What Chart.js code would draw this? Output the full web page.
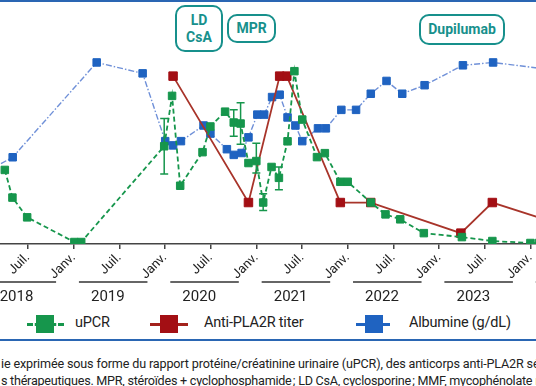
<!DOCTYPE html>
<html lang="fr">
<head>
<meta charset="utf-8">
<script src="https://cdn.jsdelivr.net/npm/chart.js@4.4.0/dist/chart.umd.min.js"></script>
<style>
  html, body { margin: 0; padding: 0; background: #fff; }
  body { width: 536px; height: 386px; position: relative; overflow: hidden; font-family: Roboto, "Noto Sans", sans-serif; color: #222; }
  #chart { position: absolute; left: -60px; top: 0; }
  .rule { position: absolute; left: 0; width: 536px; height: 2px; background: #2a66b3; }
  .tag { position: absolute; box-sizing: border-box; border: 2px solid #17908c; border-radius: 10px; color: #17908c;
         font-weight: bold; font-size: 14px; line-height: 17px; text-align: center; display: flex; align-items: center; justify-content: center; background: #fff; }
  .leg { position: absolute; top: 313px; height: 22px; }
  .leg .ln { position: absolute; top: 10px; height: 0; }
  .leg .sq { position: absolute; top: 2px; width: 18px; height: 18px; }
  .legtxt { position: absolute; top: 314px; font-size: 14.5px; line-height: 18px; letter-spacing: -0.2px; }
  .cap { position: absolute; left: 1px; white-space: nowrap; font-size: 12.6px; line-height: 16px; letter-spacing: -0.15px; color: #222; }
</style>
</head>
<body>
<div class="rule" style="top:0"></div>
<canvas id="chart" width="660" height="310"></canvas>

<div class="tag" style="left:175px; top:5px; width:48px; height:47px;">LD<br>CsA</div>
<div class="tag" style="left:227px; top:14px; width:49px; height:29px;">MPR</div>
<div class="tag" style="left:419px; top:14px; width:86px; height:31px;">Dupilumab</div>

<div class="leg" style="left:27px; width:37px;">
  <div class="ln" style="left:0; width:37px; border-top:3px dashed #16964c;"></div>
  <div class="sq" style="left:9px; background:#16964c;"></div>
</div>
<div class="legtxt" style="left:75px;">uPCR</div>
<div class="leg" style="left:150px; width:38px;">
  <div class="ln" style="left:0; width:38px; border-top:3px solid #a3221c;"></div>
  <div class="sq" style="left:10px; background:#a30f14;"></div>
</div>
<div class="legtxt" style="left:204px;">Anti-PLA2R titer</div>
<div class="leg" style="left:356px; width:34px;">
  <div class="ln" style="left:0; width:34px; border-top:3px solid #1f63c1;"></div>
  <div class="sq" style="left:9px; background:#1f63c1;"></div>
</div>
<div class="legtxt" style="left:409px;">Albumine (g/dL)</div>

<div class="rule" style="top:339px"></div>
<div class="cap" style="top:356px;">ie exprimée sous forme du rapport protéine/créatinine urinaire (uPCR), des anticorps anti-PLA2R sériques et de l'albumine</div>
<div class="cap" style="top:373px; letter-spacing:-0.25px;">s thérapeutiques. MPR, stéroïdes + cyclophosphamide&#8239;; LD CsA, cyclosporine&#8239;; MMF, mycophénolate mofétil.</div>

<script>
// uPCR (g/g)
const upcrDates = ['2018-03-30','2018-04-30','2018-06-28','2019-01-04','2019-01-31','2019-12-28','2020-01-29','2020-03-01',
  '2020-05-29','2020-06-30','2020-08-28','2020-10-02','2020-10-29','2020-11-30','2021-01-01','2021-01-28','2021-03-01',
  '2021-03-30','2021-05-04','2021-06-01','2021-07-02','2021-08-30','2021-10-01','2021-12-02','2022-01-01','2022-04-02',
  '2022-05-30','2022-07-28','2022-11-01','2023-04-01','2023-08-01','2024-01-01','2024-02-05'];
const upcrValues = [3.75, 2.35, 1.35, 0.1, 0.1, 4.95, 7.5, 2.95, 4.65, 5.95, 6.7, 6.15, 6.1, 4.1, 4.2, 2.1, 3.9,
  3.35, 5.2, 8.75, 6.3, 4.4, 4.6, 3.15, 3.15, 2.1, 1.5, 1.25, 0.55, 0.35, 0.15, 0.05, 0.05];
const upcrErrLow = [null, null, null, null, null, 3.55, null, null, null, null, null, 5.45, 5.05, null, 3.6, 1.7, null,
  2.75, null, null, null, null, null, null, null, null, null, null, null, null, null, null, null];
const upcrErrHigh = [null, null, null, null, null, 6.35, null, null, null, null, null, 6.8, 7.15, null, 5.1, 2.55, null,
  3.9, null, null, null, null, null, null, null, null, null, null, null, null, null, null, null];

// Anti-PLA2R titer (RU/mL)
const pla2rDates = ['2020-02-03','2020-11-30','2021-04-03','2021-05-01','2021-12-02','2022-04-02','2023-03-27','2023-08-01','2024-04-04'];
const pla2rValues = [170, 42, 170, 170, 42, 42, 11, 42, 22];

// Albumine (g/dL)
const albDates = ['2018-02-05','2018-05-01','2019-04-02','2019-10-03','2020-01-02','2020-02-03','2020-03-04','2020-06-03',
  '2020-06-30','2020-09-05','2020-10-02','2020-11-03','2020-11-30','2021-01-05','2021-02-02','2021-03-03','2021-04-03',
  '2021-05-04','2021-06-05','2021-07-02','2021-09-04','2021-10-05','2021-12-06','2022-02-04','2022-04-02','2022-06-04',
  '2022-08-06','2022-11-04','2023-04-05','2023-08-04','2024-04-04'];
const albValues = [1.58, 1.83, 3.83, 3.60, 2.17, 2.08, 2.17, 2.50, 2.33, 2.00, 1.88, 1.92, 2.25, 2.73, 2.73, 3.10, 3.15,
  2.67, 2.50, 2.17, 2.44, 2.44, 2.83, 2.83, 3.17, 3.44, 3.17, 3.35, 3.77, 3.83, 3.67];

// axis: months counted from Janv. 2018
const tickMonths = [0, 6, 12, 18, 24, 30, 36, 42, 48, 54, 60, 66, 72, 78];
const tickLabels = ['Janv.','Juil.','Janv.','Juil.','Janv.','Juil.','Janv.','Juil.','Janv.','Juil.','Janv.','Juil.','Janv.','Juil.'];
const yearLabels = ['2018','2019','2020','2021','2022','2023','2024'];

const GREEN = '#16964c', RED = '#a30f14', BLUE = '#1f63c1';

function monthOf(d) {
    const [y, m, day] = d.split('-').map(Number);
    return (y - 2018) * 12 + (m - 1) + (day - 1) / 30;
}

function toPoints(dates, values) {
    return dates.map((d, i) => ({ x: monthOf(d), y: values[i] }));
}

const errorBars = {
    id: 'errorBars',
    afterDatasetsDraw(chart) {
        const ctx = chart.ctx;
        const xs = chart.scales.x, ys = chart.scales.yU;
        ctx.save();
        ctx.strokeStyle = GREEN;
        ctx.lineWidth = 1.5;
        upcrDates.forEach((d, i) => {
            if (upcrErrLow[i] == null) return;
            const x = xs.getPixelForValue(monthOf(d));
            const y1 = ys.getPixelForValue(upcrErrLow[i]);
            const y2 = ys.getPixelForValue(upcrErrHigh[i]);
            ctx.beginPath();
            ctx.moveTo(x, y1); ctx.lineTo(x, y2);
            ctx.moveTo(x - 4, y1); ctx.lineTo(x + 4, y1);
            ctx.moveTo(x - 4, y2); ctx.lineTo(x + 4, y2);
            ctx.stroke();
        });
        ctx.restore();
    }
};

const yearRow = {
    id: 'yearRow',
    afterDraw(chart) {
        const ctx = chart.ctx;
        const xs = chart.scales.x;
        ctx.save();
        ctx.strokeStyle = '#333';
        ctx.lineWidth = 1.5;
        ctx.fillStyle = '#222';
        ctx.font = '15px Roboto';
        ctx.textAlign = 'center';
        ctx.textBaseline = 'middle';
        yearLabels.forEach((label, k) => {
            const a = xs.getPixelForValue(12 * k + 0.7);
            const b = xs.getPixelForValue(12 * k + 9.7);
            ctx.beginPath();
            ctx.moveTo(a, 282); ctx.lineTo(b, 282);
            ctx.stroke();
            ctx.fillText(label, xs.getPixelForValue(12 * k + 4.5), 297);
        });
        ctx.restore();
    }
};

new Chart(document.getElementById('chart'), {
    type: 'line',
    data: {
        datasets: [{
            label: 'uPCR',
            data: toPoints(upcrDates, upcrValues),
            yAxisID: 'yU',
            order: 0,
            borderColor: GREEN,
            borderWidth: 1.8,
            borderDash: [5, 3],
            backgroundColor: GREEN,
            pointStyle: 'rect',
            pointRadius: 5.3,
            pointBorderWidth: 1,
            pointBorderColor: GREEN,
            pointBackgroundColor: GREEN
        }, {
            label: 'Anti-PLA2R titer',
            data: toPoints(pla2rDates, pla2rValues),
            yAxisID: 'yP',
            order: 1,
            borderColor: '#a8342a',
            borderWidth: 1.8,
            backgroundColor: RED,
            pointStyle: 'rect',
            pointRadius: 6,
            pointBorderWidth: 1,
            pointBorderColor: RED,
            pointBackgroundColor: RED
        }, {
            label: 'Albumine (g/dL)',
            data: toPoints(albDates, albValues),
            yAxisID: 'yA',
            order: 2,
            borderColor: '#6f90d8',
            borderWidth: 1.4,
            borderDash: [6, 2, 1.5, 2],
            backgroundColor: BLUE,
            pointStyle: 'rect',
            pointRadius: 5.3,
            pointBorderWidth: 1,
            pointBorderColor: BLUE,
            pointBackgroundColor: BLUE
        }]
    },
    options: {
        responsive: false,
        animation: false,
        devicePixelRatio: 1,
        layout: { padding: { top: 4, left: 0, right: 0, bottom: 0 } },
        plugins: { legend: { display: false }, tooltip: { enabled: false } },
        scales: {
            x: {
                type: 'linear',
                min: -4.628,
                max: 80.22,
                border: { display: true, color: '#444', width: 1.5 },
                grid: { drawOnChartArea: false, drawTicks: true, tickLength: 5, color: '#444', lineWidth: 1.5 },
                ticks: {
                    autoSkip: false, maxRotation: 45, minRotation: 45, padding: 1,
                    color: '#222', font: { family: 'Roboto', size: 13 },
                    callback: (v, i) => tickLabels[i]
                },
                afterBuildTicks: s => { s.ticks = tickMonths.map(v => ({ value: v })); },
                afterFit: s => { s.height = 66; s.paddingLeft = 0; s.paddingRight = 0; }
            },
            yU: { display: false, min: 0, max: 12 },
            yP: { display: false, min: 0, max: 240 },
            yA: { display: false, min: 0, max: 5 }
        }
    },
    plugins: [errorBars, yearRow]
});
</script>
</body>
</html>
